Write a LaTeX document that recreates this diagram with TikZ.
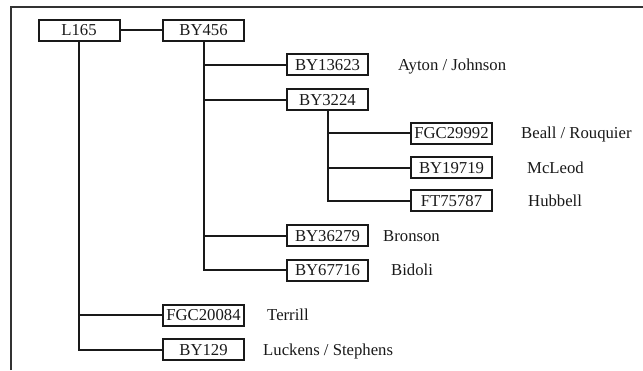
\documentclass[tikz,border=0pt]{standalone}
\usepackage{fontspec}
\setmainfont{Liberation Serif}
\begin{document}
\begin{tikzpicture}[x=1pt,y=-1pt,
  every node/.style={font=\fontsize{16.7}{18}\selectfont, text=black!90},
  hapbox/.style={draw=black!90, line width=2pt, minimum width=81pt, minimum height=21pt,
    inner sep=0pt, text height=11pt, text depth=0pt},
  surname/.style={anchor=west, inner sep=0pt, text height=11pt, text depth=0pt},
  link/.style={draw=black!90, line width=2pt},
  frameline/.style={draw=black!80, line width=1.8pt}]
\useasboundingbox (0,0) rectangle (643,370);

% outer frame (left and top edges)
\coordinate (fa) at (11,370);
\coordinate (fb) at (11,7);
\coordinate (fc) at (643,7);
\draw[frameline] (fa) -- (fb) -- (fc);

% haplogroup boxes
\node[hapbox] (l165)     at (79,30)      {L165};
\node[hapbox] (by456)    at (203.5,30)   {BY456};
\node[hapbox] (by13623)  at (327.5,64.5) {BY13623};
\node[hapbox] (by3224)   at (327.5,99.5) {BY3224};
\node[hapbox] (fgc29992) at (451.5,133)  {FGC29992};
\node[hapbox] (by19719)  at (451.5,167.5){BY19719};
\node[hapbox] (ft75787)  at (451.5,200.5){FT75787};
\node[hapbox] (by36279)  at (327.5,235.5){BY36279};
\node[hapbox] (by67716)  at (327.5,270)  {BY67716};
\node[hapbox] (fgc20084) at (203.5,315)  {FGC20084};
\node[hapbox] (by129)    at (203.5,349.5){BY129};

% surnames
\node[surname] (n13623) at (398,64.5)  {Ayton / Johnson};
\node[surname] (n29992) at (521,133)   {Beall / Rouquier};
\node[surname] (n19719) at (527,167.5) {McLeod};
\node[surname] (n75787) at (528,200.5) {Hubbell};
\node[surname] (n36279) at (383,235.5) {Bronson};
\node[surname] (n67716) at (391,270)   {Bidoli};
\node[surname] (n20084) at (267,315)   {Terrill};
\node[surname] (n129)   at (263,349.5) {Luckens / Stephens};

% tree connectors
\draw[link] (l165) -- (by456);
\draw[link] (l165.south) |- (fgc20084.west);
\draw[link] (l165.south) |- (by129.west);
\draw[link] (by456.south) |- (by13623.west);
\draw[link] (by456.south) |- (by3224.west);
\draw[link] (by456.south) |- (by36279.west);
\draw[link] (by456.south) |- (by67716.west);
\draw[link] (by3224.south) |- (fgc29992.west);
\draw[link] (by3224.south) |- (by19719.west);
\draw[link] (by3224.south) |- (ft75787.west);
\end{tikzpicture}
\end{document}
